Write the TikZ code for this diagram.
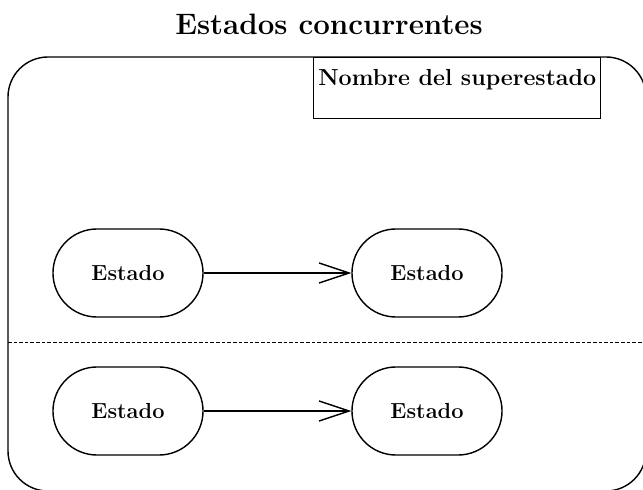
\documentclass[tikz,border=0pt]{standalone}
\usepackage{tikz}
\usetikzlibrary{positioning, arrows.meta}

\tikzset{
  estado/.style={draw, line width=1pt, rounded corners=1.1cm,
    minimum width=3.75cm, minimum height=2.2cm,
    font=\fontsize{15.5}{18}\selectfont\bfseries},
  transicion/.style={-{Straight Barb[length=0.75cm, width=0.5cm, line width=1pt]}, line width=1pt}
}

\begin{document}
\begin{tikzpicture}[x=0.025cm, y=-0.025cm]

\useasboundingbox (0,0) rectangle (643,490);
\clip (0,0) rectangle (643,490);

% titulo
\node[font=\fontsize{21}{25}\selectfont\bfseries] (titulo) at (329,24) {Estados concurrentes};

% superestado
\draw[line width=1pt, rounded corners=1cm] (8,57) rectangle (646,491);
\node[draw, line width=1pt, anchor=north west, inner xsep=0.1cm, inner ysep=0.15cm,
  minimum width=7.175cm, text height=0.55cm, text depth=0.675cm,
  font=\fontsize{16.5}{20}\selectfont\bfseries] (nombre) at (313,57) {Nombre del superestado};

% region concurrente
\coordinate (divIzq) at (8,342);
\coordinate (divDer) at (646,342);
\draw[line width=0.7pt, dash pattern=on 2.5pt off 1.5pt] (divIzq) -- (divDer);

% estados
\node[estado] (e1) at (128,273) {Estado};
\node[estado] (e2) at (427,273) {Estado};
\node[estado] (e3) at (128,411) {Estado};
\node[estado] (e4) at (427,411) {Estado};

\draw[transicion] (e1) -- (e2);
\draw[transicion] (e3) -- (e4);

\end{tikzpicture}
\end{document}
